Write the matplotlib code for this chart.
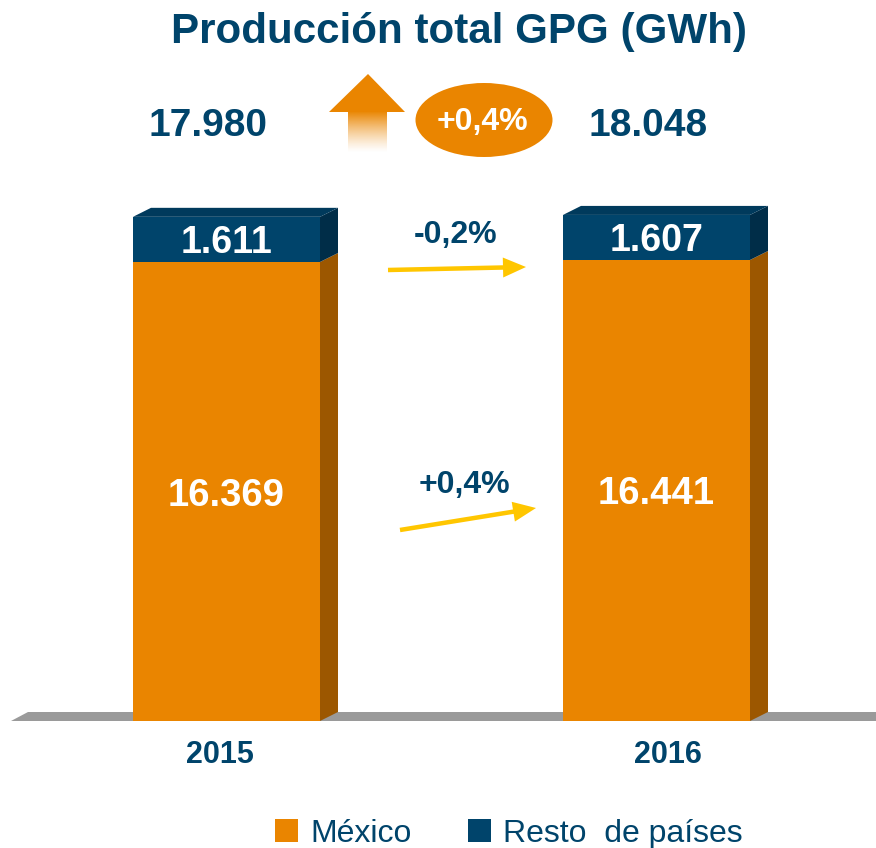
import matplotlib.pyplot as plt
import numpy as np
from matplotlib.patches import Polygon, Ellipse, Rectangle, FancyArrow
from matplotlib.colors import to_rgb

years = ['2015', '2016']
mexico = [16369, 16441]
resto = [1611, 1607]
legend_labels = ['México', 'Resto  de países']

ORANGE = '#EA8500'
ORANGE_SIDE = '#9C5700'
NAVY = '#00446B'
NAVY_SIDE = '#002D48'
NAVY_TOP = '#003A5C'
YELLOW = '#FFC600'
GREY = '#9A9A9A'

plt.rcParams['font.family'] = ['Liberation Sans', 'DejaVu Sans']


def fmt(v):
    return f'{v:,}'.replace(',', '.')


def pct(a, b):
    return f'{(b / a - 1) * 100:+.1f}%'.replace('.', ',')


W, H = 876, 848
fig = plt.figure(figsize=(W / 100, H / 100), dpi=100)

# pixel space axes, used for the floor and the decorations
pix = fig.add_axes([0, 0, 1, 1])
pix.set_xlim(0, W)
pix.set_ylim(H, 0)
pix.axis('off')

# value axes for the bars
ax = fig.add_axes([0, 0, 1, 1])
ax.set_facecolor('none')
ax.axis('off')
floor_px = 721
px_per_gwh = 459 / 16369
ax.set_ylim(-(H - floor_px) / px_per_gwh, floor_px / px_per_gwh)
unit = 430
ax.set_xlim(-226.5 / unit, (W - 226.5) / unit)

# floor slab
pix.add_patch(Polygon([(11, 721), (28, 712), (W, 712), (W, 721)],
                      closed=True, color=GREY, lw=0, zorder=1))

x = np.arange(len(years))
bw = 187 / unit
dx = 18 / unit
dy = 9 / px_per_gwh
totals = [m + r for m, r in zip(mexico, resto)]

ax.bar(x, mexico, width=bw, color=ORANGE, zorder=3)
ax.bar(x, resto, bottom=mexico, width=bw, color=NAVY, zorder=3)

for xi, m, r in zip(x, mexico, resto):
    t = m + r
    xr = xi + bw / 2
    xl = xi - bw / 2
    ax.add_patch(Polygon([(xr, 0), (xr + dx, dy), (xr + dx, m + dy), (xr, m)],
                         closed=True, color=ORANGE_SIDE, lw=0, zorder=2))
    ax.add_patch(Polygon([(xr, m), (xr + dx, m + dy), (xr + dx, t + dy), (xr, t)],
                         closed=True, color=NAVY_SIDE, lw=0, zorder=2))
    ax.add_patch(Polygon([(xl, t), (xl + dx, t + dy), (xr + dx, t + dy), (xr, t)],
                         closed=True, color=NAVY_TOP, lw=0, zorder=2))
    ax.text(xi, m / 2 - 14 / px_per_gwh, fmt(m), ha='center', va='baseline',
            color='white', fontsize=27.5, fontweight='bold', zorder=5)
    ax.text(xi, m + r / 2 - 14 / px_per_gwh, fmt(r), ha='center', va='baseline',
            color='white', fontsize=27, fontweight='bold', zorder=5)

T = pix.transData

# year captions under the floor
for lx, yr in zip([220, 668], years):
    ax.text(lx, 763, yr, transform=T, ha='center', va='baseline',
            color=NAVY, fontsize=22, fontweight='bold', zorder=5)

# title and totals
ax.text(459, 43, 'Producción total GPG (GWh)', transform=T, ha='center',
        va='baseline', color=NAVY, fontsize=30.3, fontweight='bold')
ax.text(208, 136, fmt(totals[0]), transform=T, ha='center', va='baseline',
        color=NAVY, fontsize=28, fontweight='bold')
ax.text(648, 136, fmt(totals[1]), transform=T, ha='center', va='baseline',
        color=NAVY, fontsize=28, fontweight='bold')

# growth badge
pix.add_patch(Ellipse((484, 120), 137, 74, color=ORANGE, lw=0, zorder=3))
ax.text(482, 130, pct(totals[0], totals[1]), transform=T, ha='center',
        va='baseline', color='white', fontsize=23, fontweight='bold', zorder=6)

# up arrow with a fading shaft
pix.add_patch(Polygon([(368, 74), (405, 112), (329, 112)], closed=True,
                      color=ORANGE, lw=0, zorder=3))
grad = np.zeros((60, 2, 4))
grad[..., :3] = to_rgb(ORANGE)
grad[..., 3] = np.linspace(1, 0, 60)[:, None] ** 1.3
pix.imshow(grad, extent=(348, 387, 153, 111), aspect='auto',
           interpolation='bilinear', zorder=3)
pix.set_xlim(0, W)
pix.set_ylim(H, 0)

# change arrows between the years
ax.text(456, 243, pct(resto[0], resto[1]), transform=T, ha='center',
        va='baseline', color=NAVY, fontsize=23, fontweight='bold')
ax.text(464, 493, pct(mexico[0], mexico[1]), transform=T, ha='center',
        va='baseline', color=NAVY, fontsize=23, fontweight='bold')
for (x0, y0), (x1, y1) in [((388, 270), (526, 267)), ((400, 530), (536, 508))]:
    pix.add_patch(FancyArrow(x0, y0, x1 - x0, y1 - y0, width=4.5,
                             head_width=20, head_length=23,
                             length_includes_head=True, color=YELLOW,
                             lw=0, zorder=4))

# legend
for (lx, tx), c, lab in zip([(275, 310), (468, 503)], [ORANGE, NAVY],
                            legend_labels):
    pix.add_patch(Rectangle((lx, 819), 23, 23, color=c, lw=0, zorder=3))
    ax.text(tx, 842, lab, transform=T, ha='left', va='baseline',
            color=NAVY, fontsize=23)

fig.savefig('out.png', dpi=100)
